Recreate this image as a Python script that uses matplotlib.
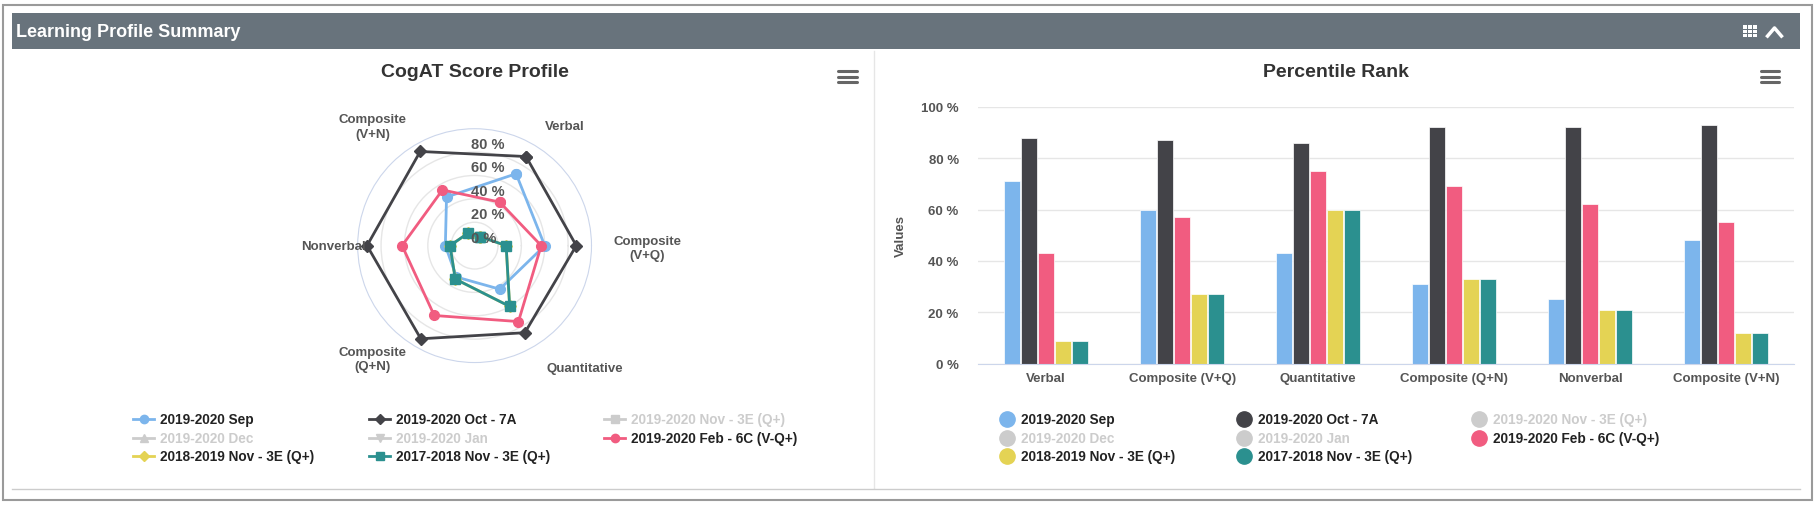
import numpy as np
import matplotlib
matplotlib.use("Agg")
import matplotlib.pyplot as plt
from matplotlib.lines import Line2D
from matplotlib.patches import Rectangle

plt.rcParams["font.family"] = "Liberation Sans"

categories = ["Verbal", "Composite (V+Q)", "Quantitative", "Composite (Q+N)", "Nonverbal", "Composite (V+N)"]
radar_labels = ["Verbal", "Composite\n(V+Q)", "Quantitative", "Composite\n(Q+N)", "Nonverbal", "Composite\n(V+N)"]
sep_2019 = [71, 60, 43, 31, 25, 48]
oct_2019 = [88, 87, 86, 92, 92, 93]
feb_2020 = [43, 57, 75, 69, 62, 55]
nov_2018 = [9, 27, 60, 33, 21, 12]
nov_2017 = [9, 27, 60, 33, 21, 12]
radial_ticks = [0, 20, 40, 60, 80]

series = [
    ("2019-2020 Sep", sep_2019, "#7cb5ec", "o"),
    ("2019-2020 Oct - 7A", oct_2019, "#434348", "D"),
    ("2019-2020 Feb - 6C (V-Q+)", feb_2020, "#f15c80", "o"),
    ("2018-2019 Nov - 3E (Q+)", nov_2018, "#e4d354", "D"),
    ("2017-2018 Nov - 3E (Q+)", nov_2017, "#2b908f", "s"),
]
legend_items = [
    ("2019-2020 Sep", "#7cb5ec", "o", True),
    ("2019-2020 Oct - 7A", "#434348", "D", True),
    ("2019-2020 Nov - 3E (Q+)", "#cccccc", "s", False),
    ("2019-2020 Dec", "#cccccc", "^", False),
    ("2019-2020 Jan", "#cccccc", "v", False),
    ("2019-2020 Feb - 6C (V-Q+)", "#f15c80", "o", True),
    ("2018-2019 Nov - 3E (Q+)", "#e4d354", "D", True),
    ("2017-2018 Nov - 3E (Q+)", "#2b908f", "s", True),
]

W, H = 1568, 437
fig = plt.figure(figsize=(18.15, 5.06), dpi=100)
fx = lambda x: x / W
fy = lambda y: 1 - y / H

# frame & header
fig.patches.append(Rectangle((fx(3), fy(433)), fx(1562), fy(5) - fy(433), transform=fig.transFigure,
                             facecolor="white", edgecolor="#9a9a9a", lw=1.5, zorder=-10))
fig.patches.append(Rectangle((fx(10), fy(43)), fx(1545), fy(12) - fy(43), transform=fig.transFigure,
                             facecolor="#68737c", edgecolor="none", zorder=-9))
fig.text(fx(14), fy(28), "Learning Profile Summary", color="white", fontsize=13, fontweight="bold", va="center")
for i in range(3):
    for j in range(3):
        fig.patches.append(Rectangle((fx(1506 + i * 4.3), fy(33 - j * 3.6)), fx(3.6), fy(0) - fy(3), transform=fig.transFigure,
                                     facecolor="white", edgecolor="none"))
fig.add_artist(Line2D([fx(1527), fx(1533), fx(1539)], [fy(32), fy(25), fy(32)], color="white", lw=2.5,
                      transform=fig.transFigure))
fig.add_artist(Line2D([fx(755), fx(755)], [fy(45), fy(422)], color="#e6e6e6", lw=1, transform=fig.transFigure))
fig.add_artist(Line2D([fx(10), fx(1555)], [fy(423), fy(423)], color="#cccccc", lw=1, transform=fig.transFigure))
for cxx in (732, 1529):
    for k in range(3):
        fig.add_artist(Line2D([fx(cxx - 8), fx(cxx + 8)], [fy(62 + k * 5)] * 2, color="#666666", lw=2.2,
                              solid_capstyle="round", transform=fig.transFigure))

fig.text(fx(410), fy(63), "CogAT Score Profile", fontsize=14, fontweight="bold", color="#333333", ha="center", va="center")
fig.text(fx(1154), fy(63), "Percentile Rank", fontsize=14, fontweight="bold", color="#333333", ha="center", va="center")

# radar
cx, cy, r = 410, 213, 101
axp = fig.add_axes([fx(cx - r), fy(cy + r), fx(2 * r), fy(cy - r) - fy(cy + r)], projection="polar")
n = len(categories)
theta = np.deg2rad(60 - 60 * np.arange(n))
thc = np.append(theta, theta[0])
for name, vals, col, mk in series:
    v = np.append(vals, vals[0])
    ms = 7 if mk != "D" else 6
    axp.plot(thc, v, color=col, lw=2, marker=mk, ms=ms, zorder=3, clip_on=False)
axp.set_ylim(0, 100)
axp.set_yticks(radial_ticks)
axp.set_yticklabels([])
axp.set_xticks([])
axp.spines["polar"].set_color("#ccd6eb")
axp.yaxis.grid(True, color="#e6e6e6", lw=1)
axp.xaxis.grid(False)
axp.set_facecolor("none")
for t in radial_ticks:
    rr = t / 100 * r
    fig.text(fx(cx - 3), fy(cy - rr - 7), f"{t} %", fontsize=10.5, fontweight="bold", color="#555555",
             ha="left", va="center", zorder=2)
label_pos = [(cx + 78, cy - 103, "center"), (cx + 120, cy + 2, "left"), (cx + 95, cy + 106, "center"),
             (cx - 88, cy + 98, "center"), (cx - 150, cy, "left"), (cx - 88, cy - 103, "center")]
for lab, (xx, yy, ha) in zip(radar_labels, label_pos):
    fig.text(fx(xx), fy(yy), lab, fontsize=9.5, fontweight="bold", color="#555555", ha=ha, va="center",
             multialignment="center", linespacing=1.3)

# bars
axb = fig.add_axes([fx(845), fy(315), fx(1550 - 845), fy(93) - fy(315)])
x = np.arange(n)
bw = 0.117
offs = (np.arange(len(series)) - 2) * (bw + 0.008)
for (name, vals, col, mk), o in zip(series, offs):
    axb.bar(x + o, vals, width=bw, color=col, edgecolor="white", lw=0.5, zorder=2)
axb.set_xlim(-0.5, n - 0.5)
axb.set_ylim(0, 100)
axb.set_yticks([0, 20, 40, 60, 80, 100])
axb.set_yticklabels([f"{t} %" for t in [0, 20, 40, 60, 80, 100]], fontsize=9.5, fontweight="bold", color="#555555")
axb.set_xticks(x)
axb.set_xticklabels(categories, fontsize=9.5, fontweight="bold", color="#555555")
axb.tick_params(axis="y", length=0, pad=14)
axb.tick_params(axis="x", length=0, pad=6)
axb.yaxis.grid(True, color="#e6e6e6", lw=1, zorder=0)
axb.set_axisbelow(True)
for s in ["top", "right", "left"]:
    axb.spines[s].set_visible(False)
axb.spines["bottom"].set_color("#ccd6eb")
axb.set_ylabel("Values", fontsize=9.5, fontweight="bold", color="#555555", labelpad=10)

def draw_legend(x0s, rows, radar):
    for i, (name, col, mk, vis) in enumerate(legend_items):
        xi, yi = x0s[i % 3], rows[i // 3]
        tc = "#222222" if vis else "#cccccc"
        if radar:
            fig.add_artist(Line2D([fx(xi - 9), fx(xi + 9)], [fy(yi)] * 2, color=col, lw=2, transform=fig.transFigure))
            fig.add_artist(Line2D([fx(xi)], [fy(yi)], color=col, marker=mk, ms=6 if mk != "D" else 5,
                                  transform=fig.transFigure))
            tx = xi + 14
        else:
            fig.add_artist(Line2D([fx(xi)], [fy(yi)], color=col if vis else "#cccccc", marker="o", ms=11,
                                  transform=fig.transFigure))
            tx = xi + 12
        fig.text(fx(tx), fy(yi), name, fontsize=9.8, fontweight="bold", color=tc, va="center")

draw_legend([124, 328, 531], [363, 379, 395], True)
draw_legend([870, 1075, 1278], [363, 379, 395], False)

fig.savefig("out.png", dpi=100)
